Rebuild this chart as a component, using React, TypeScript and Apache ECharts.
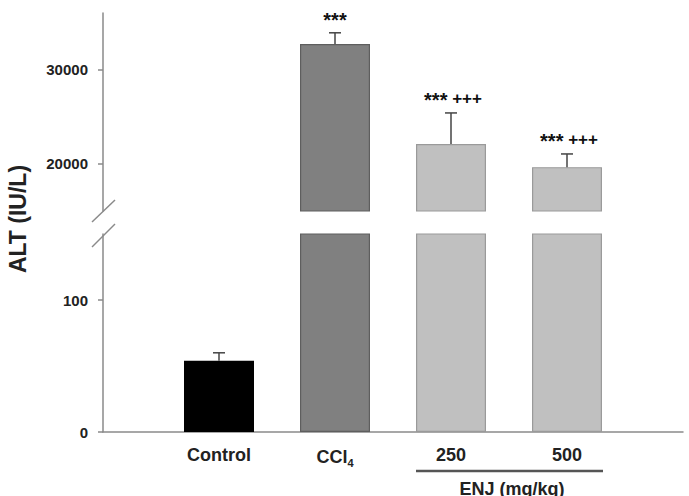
import React, { useEffect, useRef } from "react";
import * as echarts from "echarts";

const groups = ["Control", "CCl4", "250", "500"];
const means = [54, 32700, 22100, 19650];
const errors = [6, 1200, 3300, 1400];
const stars = ["", "***", "***", "***"];
const pluses = ["", "", "+++", "+++"];
const upperTicks = [20000, 30000];
const lowerTicks = [0, 100];
const upperRange = [15000, 36000];
const lowerRange = [0, 150];
const yTitle = "ALT (IU/L)";
const groupTitle = "ENJ (mg/kg)";

const barColors = ["#000000", "#808080", "#c0c0c0", "#c0c0c0"];
const barBorders = ["#000000", "#5e5e5e", "#9a9a9a", "#9a9a9a"];

const FONT = "'Liberation Sans', Arial, sans-serif";

export default function App() {
  const ref = useRef<HTMLDivElement>(null);
  useEffect(() => {
    if (!ref.current) return;
    const chart = echarts.init(ref.current, null, { renderer: "svg" });
    const categories = ["", ...groups, ""];
    const barData = groups.map((g, i) => ({
      value: means[i],
      itemStyle: { color: barColors[i], borderColor: barBorders[i], borderWidth: 1.2 },
    }));
    const barSeriesData = [null, ...barData, null];
    const errData = groups.map((g, i) => [i + 1, means[i], errors[i]]);

    const makeErr = (gridIdx: number) => ({
      type: "custom",
      xAxisIndex: gridIdx,
      yAxisIndex: gridIdx,
      clip: true,
      z: 5,
      data: errData.filter((d) =>
        gridIdx === 0 ? d[1] >= upperRange[0] : d[1] <= lowerRange[1]
      ),
      renderItem: (params: any, api: any) => {
        const x = api.value(0);
        const m = api.value(1);
        const e = api.value(2);
        const p0 = api.coord([x, m]);
        const p1 = api.coord([x, m + e]);
        const idx = x - 1;
        const ls = { stroke: "#444", lineWidth: 1.5 };
        const children: any[] = [
          { type: "line", shape: { x1: p0[0], y1: p0[1], x2: p1[0], y2: p1[1] }, style: ls },
          { type: "line", shape: { x1: p1[0] - 6, y1: p1[1], x2: p1[0] + 6, y2: p1[1] }, style: ls },
        ];
        if (stars[idx]) {
          const txt = pluses[idx] ? `{s|${stars[idx]}} {p|${pluses[idx]}}` : `{s|${stars[idx]}}`;
          children.push({
            type: "text",
            x: p1[0] + (pluses[idx] ? 2 : 0),
            y: p1[1] - 14,
            style: {
              text: txt,
              fill: "#111",
              font: `bold 17px ${FONT}`,
              align: "center",
              verticalAlign: "middle",
              rich: {
                s: { font: `bold 20px ${FONT}`, fill: "#111", padding: [3, 0, 0, 0] },
                p: { font: `bold 17px ${FONT}`, fill: "#111" },
              },
            },
          });
        }
        return { type: "group", children };
      },
    });

    const axisLineStyle = { color: "#8a8a8a", width: 1.5 };
    const tickLabel = {
      margin: 15,
      color: "#222",
      fontWeight: "bold",
      fontSize: 15,
      fontFamily: FONT,
      formatter: (v: number) => String(v),
    };

    chart.setOption({
      animation: false,
      textStyle: { fontFamily: FONT },
      grid: [
        { left: 103, right: 6, top: 13, height: 198 },
        { left: 103, right: 6, top: 234, height: 198 },
      ],
      xAxis: [
        {
          type: "category",
          gridIndex: 0,
          data: categories,
          boundaryGap: false,
          show: false,
        },
        {
          type: "category",
          gridIndex: 1,
          data: categories,
          boundaryGap: false,
          axisLine: { lineStyle: axisLineStyle },
          axisTick: { show: false },
          axisLabel: {
            interval: 0,
            margin: 14,
            color: "#222",
            fontWeight: "bold",
            fontSize: 18,
            fontFamily: FONT,
            formatter: (v: string) => (v === "CCl4" ? "{b|CCl}{s|4}" : v),
            rich: {
              b: { fontWeight: "bold", fontSize: 18, color: "#222", fontFamily: FONT },
              s: { fontWeight: "bold", fontSize: 11, color: "#222", fontFamily: FONT, padding: [11, 0, 0, 0] },
            },
          },
        },
      ],
      yAxis: [
        {
          type: "value",
          gridIndex: 0,
          min: upperRange[0],
          max: upperRange[1],
          splitLine: { show: false },
          axisLine: { show: true, lineStyle: axisLineStyle },
          axisTick: { show: true, length: 5, customValues: upperTicks, lineStyle: axisLineStyle },
          axisLabel: { ...tickLabel, customValues: upperTicks },
        },
        {
          type: "value",
          gridIndex: 1,
          min: lowerRange[0],
          max: lowerRange[1],
          splitLine: { show: false },
          axisLine: { show: true, lineStyle: axisLineStyle },
          axisTick: { show: true, length: 5, customValues: lowerTicks, lineStyle: axisLineStyle },
          axisLabel: { ...tickLabel, customValues: lowerTicks },
        },
      ],
      series: [
        { type: "bar", xAxisIndex: 0, yAxisIndex: 0, barWidth: 70, data: barSeriesData, clip: true },
        { type: "bar", xAxisIndex: 1, yAxisIndex: 1, barWidth: 70, data: barSeriesData, clip: true },
        makeErr(0),
        makeErr(1),
      ],
      graphic: [
        {
          type: "text",
          x: 18,
          y: 219,
          rotation: Math.PI / 2,
          style: {
            text: yTitle,
            font: `bold 23px ${FONT}`,
            fill: "#222",
            align: "center",
            verticalAlign: "middle",
          },
        },
        { type: "line", shape: { x1: 92, y1: 222, x2: 115, y2: 200 }, style: { stroke: "#8a8a8a", lineWidth: 1.5 } },
        { type: "line", shape: { x1: 92, y1: 247, x2: 115, y2: 224 }, style: { stroke: "#8a8a8a", lineWidth: 1.5 } },
        { type: "line", shape: { x1: 416, y1: 471, x2: 603, y2: 471 }, style: { stroke: "#555", lineWidth: 2.5 } },
        {
          type: "text",
          x: 512,
          y: 480,
          style: {
            text: groupTitle,
            font: `bold 18px ${FONT}`,
            fill: "#222",
            align: "center",
            verticalAlign: "top",
          },
        },
      ],
    });
    return () => chart.dispose();
  }, []);
  return (
    <div
      ref={ref}
      style={{ position: "absolute", left: 0, top: 0, width: 689, height: 496, background: "#fff" }}
    />
  );
}
